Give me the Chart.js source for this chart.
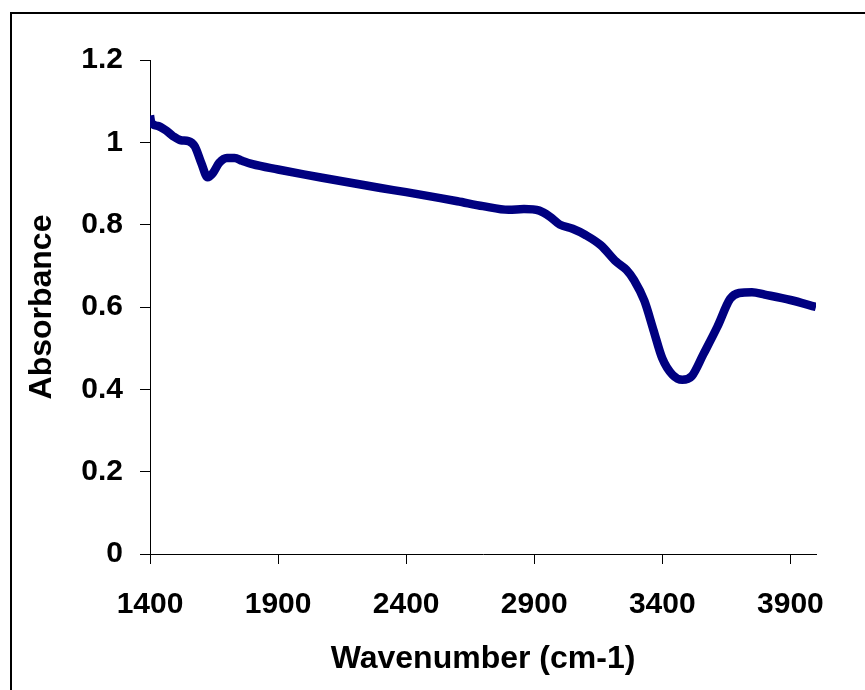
<!DOCTYPE html>
<html>
<head>
<meta charset="utf-8">
<script src="https://cdn.jsdelivr.net/npm/chart.js@4/dist/chart.umd.min.js"></script>
<style>
  html, body { margin: 0; padding: 0; background: #fff; overflow: hidden; }
  #frame {
    position: absolute; left: 10px; top: 12px; width: 900px; height: 720px;
    border-top: 2px solid #000; border-left: 2px solid #000;
  }
  canvas { position: absolute; left: 0; top: 0; }
</style>
</head>
<body>
<div id="frame"></div>
<canvas id="chart" width="865" height="690"></canvas>
<script>
// spectrum
const wavenumbers = [
  1400, 1405, 1430, 1460, 1490, 1520, 1550, 1575, 1600, 1625, 1645, 1670, 1700,
  1730, 1760, 1800, 1900, 2000, 2100, 2200, 2300, 2400, 2500, 2600, 2700, 2800,
  2860, 2920, 2960, 3000, 3050, 3100, 3160, 3220, 3260, 3290, 3330, 3365, 3400,
  3440, 3478, 3515, 3560, 3615, 3665, 3700, 3750, 3800, 3900, 4000
]
const absorbance = [
  1.065, 1.048, 1.04, 1.03, 1.015, 1.005, 1.003, 0.99, 0.95, 0.915, 0.925, 0.95, 0.962,
  0.962, 0.955, 0.947, 0.934, 0.922, 0.911, 0.900, 0.889, 0.879, 0.868, 0.857, 0.845, 0.836,
  0.838, 0.834, 0.820, 0.800, 0.790, 0.775, 0.750, 0.710, 0.690, 0.665, 0.615, 0.545, 0.475,
  0.435, 0.423, 0.432, 0.485, 0.552, 0.620, 0.634, 0.636, 0.630, 0.617, 0.600
]
const xTicks = [1400, 1900, 2400, 2900, 3400, 3900]
const yTicks = [0, 0.2, 0.4, 0.6, 0.8, 1, 1.2]
const yTickLabels = ["0", "0.2", "0.4", "0.6", "0.8", "1", "1.2"]

const points = wavenumbers.map((w, i) => ({ x: w, y: absorbance[i] }))
const tickFont = { family: "'Liberation Sans', Arial, sans-serif", size: 30, weight: "bold" }
const titleFont = { family: "'Liberation Sans', Arial, sans-serif", size: 32, weight: "bold" }

new Chart(document.getElementById("chart").getContext("2d"), {
  type: "line",
  data: {
    datasets: [{
      data: points,
      borderColor: "#000080",
      borderWidth: 8.5,
      pointRadius: 0,
      cubicInterpolationMode: "monotone"
    }]
  },
  options: {
    responsive: false,
    animation: false,
    devicePixelRatio: 1,
    layout: { padding: { left: 0, top: 60, right: 49, bottom: 0 } },
    plugins: { legend: { display: false }, tooltip: { enabled: false } },
    scales: {
      x: {
        type: "linear",
        min: 1400,
        max: 4000,
        afterBuildTicks: axis => { axis.ticks = xTicks.map(v => ({ value: v })) },
        afterFit: axis => { axis.height = 136 },
        grid: { drawOnChartArea: false, drawTicks: true, tickLength: 10, color: "#000" },
        border: { display: true, color: "#000", width: 1 },
        ticks: { color: "#000", font: tickFont, padding: 23, maxRotation: 0, callback: v => String(v) },
        title: { display: true, text: "Wavenumber (cm-1)", color: "#000", font: titleFont, padding: { top: 0, bottom: 12 } }
      },
      y: {
        min: 0,
        max: 1.2,
        afterBuildTicks: axis => { axis.ticks = yTicks.map(v => ({ value: v })) },
        afterFit: axis => { axis.width = 150 },
        grid: { drawOnChartArea: false, drawTicks: true, tickLength: 10, color: "#000" },
        border: { display: true, color: "#000", width: 1 },
        ticks: { color: "#000", font: tickFont, padding: 17, callback: (v, i) => yTickLabels[i] },
        title: { display: true, text: "Absorbance", color: "#000", font: titleFont, padding: { top: 23, bottom: 0 } }
      }
    }
  }
})
</script>
</body>
</html>
